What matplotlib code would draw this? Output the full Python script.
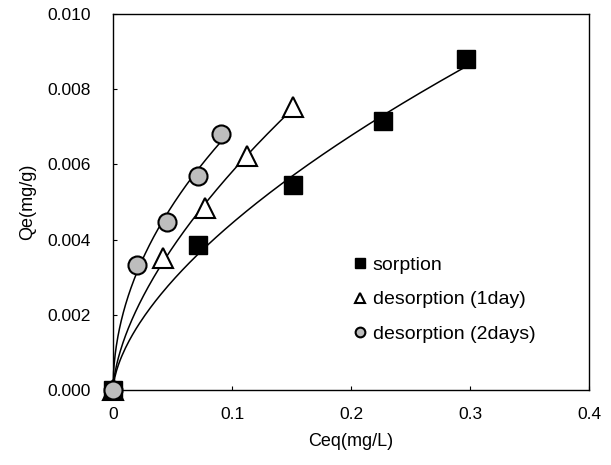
import numpy as np
import matplotlib
matplotlib.use("Agg")
import matplotlib.pyplot as plt

plt.rcParams['font.family'] = ['Liberation Sans', 'DejaVu Sans']

# data
c_sorp = [0.0, 0.071, 0.151, 0.227, 0.297]
q_sorp = [0.0, 0.00385, 0.00544, 0.00716, 0.0088]
c_des1 = [0.0, 0.042, 0.077, 0.113, 0.151]
q_des1 = [0.0, 0.0035, 0.00483, 0.00623, 0.00753]
c_des2 = [0.0, 0.020, 0.045, 0.071, 0.091]
q_des2 = [0.0, 0.00332, 0.00446, 0.00568, 0.00682]
labels = ['sorption', 'desorption (1day)', 'desorption (2days)']


def fit_curve(c, q):
    # power-law fit (least squares in linear space), drawn from the origin
    c = np.array(c[1:])
    q = np.array(q[1:])
    best = None
    for n in np.linspace(0.2, 1.0, 801):
        cn = c ** n
        k = (cn @ q) / (cn @ cn)
        err = ((k * cn - q) ** 2).sum()
        if best is None or err < best[0]:
            best = (err, k, n)
    _, k, n = best
    xs = np.linspace(0, c.max(), 200)
    return xs, k * xs ** n


fig = plt.figure(figsize=(6.11, 4.65), dpi=100)
ax = fig.add_axes([0.185, 0.161, 0.779, 0.809])

for c, q in [(c_sorp, q_sorp), (c_des1, q_des1), (c_des2, q_des2)]:
    xs, ys = fit_curve(c, q)
    ax.plot(xs, ys, color='black', lw=1.1, zorder=2)

ax.plot(c_des1, q_des1, '^', ms=14, mfc='white', mec='black', mew=1.5, ls='none', zorder=3)
ax.plot(c_sorp, q_sorp, 's', ms=13, mfc='black', mec='black', ls='none', zorder=4)
ax.plot(c_des2, q_des2, 'o', ms=13, mfc='#bdbdbd', mec='black', mew=1.5, ls='none', zorder=5)

# legend drawn as plain markers and text
h1, = ax.plot([], [], 's', ms=7, mfc='black', mec='black')
h2, = ax.plot([], [], '^', ms=7, mfc='white', mec='black', mew=1.5)
h3, = ax.plot([], [], 'o', ms=7, mfc='#bdbdbd', mec='black', mew=1.5)
ax.legend([h1, h2, h3], labels, loc='lower left', bbox_to_anchor=(0.47, 0.08),
          frameon=False, fontsize=14, handlelength=0.6, handletextpad=0.35,
          labelspacing=0.85)

ax.set_xlim(0, 0.4)
ax.set_ylim(0, 0.010)
ax.set_xticks([0, 0.1, 0.2, 0.3, 0.4])
ax.set_xticklabels(['0', '0.1', '0.2', '0.3', '0.4'])
ax.set_yticks(np.arange(0, 0.0101, 0.002))
ax.set_yticklabels(['0.000', '0.002', '0.004', '0.006', '0.008', '0.010'])
ax.tick_params(direction='in', length=3, labelsize=12.5)
ax.tick_params(axis='x', pad=12)
ax.tick_params(axis='y', pad=16)
ax.set_xlabel('Ceq(mg/L)', fontsize=13, labelpad=8)
ax.set_ylabel('Qe(mg/g)', fontsize=13, labelpad=8)
for s in ax.spines.values():
    s.set_linewidth(1.0)
for line in ax.lines:
    line.set_clip_on(False)

fig.savefig('out.png', dpi=100)
